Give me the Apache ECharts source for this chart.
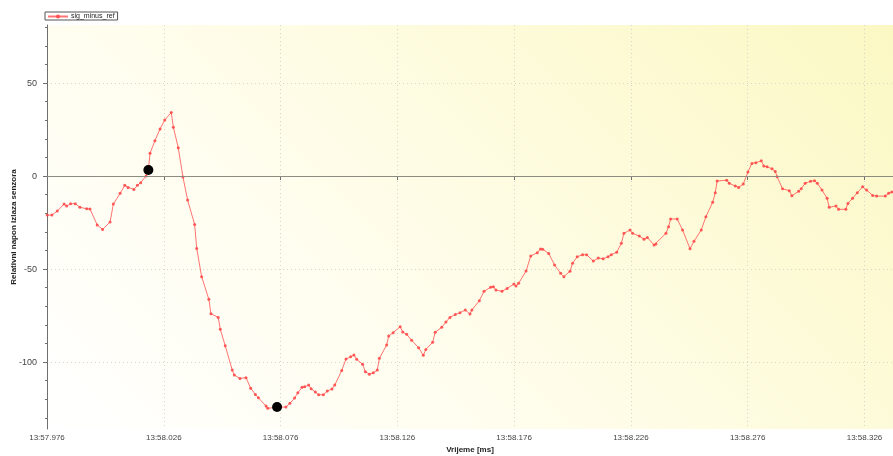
<!DOCTYPE html>
<html>
<head>
<meta charset="utf-8">
<title>sig_minus_ref</title>
<script src="https://cdn.jsdelivr.net/npm/echarts@6/dist/echarts.min.js"></script>
<style>
  html, body { margin: 0; padding: 0; background: #ffffff; }
  #chart { width: 893px; height: 456px; }
</style>
</head>
<body>
<div id="chart"></div>
<script>
// Sample times in ms after 13:57.976
const timeMs = [
  0.1, 2.1, 4.4, 7.3, 8.4, 10.1, 12.1, 14.1, 17.0, 18.4,
  21.5, 23.8, 27.0, 28.4, 31.3, 33.3, 34.7, 37.2, 38.7, 40.1,
  42.4, 43.4, 44.1, 46.2, 48.4, 50.4, 53.2, 54.1, 56.2, 58.2,
  60.2, 63.2, 64.1, 66.2, 69.3, 70.2, 73.3, 74.2, 76.3, 79.3,
  80.2, 82.6, 85.2, 87.2, 89.2, 90.5, 93.8, 94.5, 98.5, 102.3,
  104.0, 106.0, 107.4, 109.2, 110.3, 112.0, 113.1, 114.9, 116.3, 118.3,
  120.0, 122.0, 123.2, 126.2, 128.0, 130.0, 131.4, 132.6, 135.1, 136.3,
  138.0, 139.7, 141.4, 142.3, 145.4, 146.3, 148.2, 151.2, 152.3, 154.0,
  156.1, 159.1, 161.1, 162.2, 165.1, 166.2, 169.0, 170.8, 172.5, 174.8,
  176.8, 179.1, 181.1, 181.9, 185.1, 187.1, 189.9, 191.1, 192.2, 194.8,
  197.0, 199.9, 200.8, 201.9, 205.1, 207.1, 209.9, 211.3, 212.2, 214.8,
  217.3, 219.9, 221.3, 223.9, 225.0, 227.0, 229.3, 231.0, 233.9, 236.0,
  238.1, 240.2, 241.6, 243.9, 245.9, 247.0, 249.6, 250.7, 253.6, 255.6,
  257.0, 259.9, 260.7, 265.0, 266.1, 267.0, 269.8, 272.1, 275.3, 277.0,
  280.1, 282.1, 285.0, 286.1, 286.9, 291.0, 292.1, 294.7, 296.1, 298.1,
  300.1, 301.8, 303.5, 305.8, 306.9, 308.3, 310.4, 311.8, 312.6, 314.9,
  317.8, 318.9, 321.8, 322.9, 324.6, 326.9, 328.6, 329.8, 331.8, 334.0,
  334.9, 337.8, 338.9, 342.0, 342.9, 344.9, 346.9, 349.2, 350.9, 353.5,
  355.2, 358.9, 360.3, 361.7
];

// Relative sensor output voltage (sig - ref)
const sigMinusRef = [
  -21.0, -21.0, -18.8, -15.1, -16.1, -14.9, -14.9, -16.8, -17.6, -17.7,
  -26.3, -28.7, -24.7, -15.1, -9.3, -5.0, -6.1, -7.2, -5.0, -3.6,
  0.0, 3.2, 12.2, 19.0, 25.3, 30.1, 34.2, 26.2, 15.2, -0.5,
  -12.9, -26.0, -38.9, -54.1, -66.3, -74.0, -76.0, -82.4, -91.2, -104.3,
  -107.0, -108.8, -108.4, -114.1, -117.4, -119.2, -123.7, -124.9, -124.2, -124.2,
  -122.2, -119.4, -116.5, -113.6, -113.3, -112.4, -114.4, -116.1, -117.6, -117.6,
  -115.6, -114.5, -112.4, -104.5, -98.4, -97.2, -96.2, -98.5, -101.2, -105.2,
  -106.5, -105.8, -104.3, -98.0, -90.9, -86.0, -84.2, -81.0, -83.9, -85.1,
  -88.3, -92.3, -96.4, -93.2, -89.4, -84.0, -81.3, -78.5, -76.0, -74.4,
  -73.5, -72.0, -74.2, -72.0, -67.0, -62.0, -59.8, -59.5, -61.3, -62.0,
  -60.4, -58.1, -59.1, -57.7, -51.1, -43.0, -41.2, -39.2, -39.4, -41.6,
  -47.8, -52.3, -54.1, -51.2, -46.9, -43.4, -42.3, -42.3, -45.7, -44.1,
  -44.5, -43.4, -42.3, -41.0, -36.2, -30.8, -29.0, -30.8, -32.3, -34.0,
  -33.0, -37.1, -36.6, -30.8, -27.3, -23.1, -23.1, -29.0, -39.1, -35.1,
  -29.0, -21.9, -14.1, -9.0, -2.7, -2.2, -3.9, -5.4, -6.1, -4.3,
  2.2, 6.8, 7.2, 8.2, 5.4, 5.0, 3.9, 2.5, -0.4, -6.8,
  -7.9, -10.6, -8.2, -6.8, -3.9, -2.8, -2.5, -3.9, -7.5, -12.0,
  -16.8, -16.1, -17.9, -17.9, -14.7, -12.0, -9.0, -5.8, -7.5, -10.4,
  -10.8, -10.8, -9.3, -8.6
];

// Samples highlighted with black markers
const markedIdx = [21, 48];

// Axis ticks
const yMajorTicks = [-100, -50, 0, 50];
const yMinorTicks = [-130, -120, -110, -100, -90, -80, -70, -60, -50, -40, -30, -20, -10,
                     0, 10, 20, 30, 40, 50, 60, 70, 80];
const startMs = 57976;   // 13:57.976, in ms after 13:00

const seriesName = 'sig_minus_ref';
const yTitle = 'Relativni napon izlaza senzora';
const xTitle = 'Vrijeme [ms]';

function fmtTime(v) {
  const abs = Math.round(startMs + v);
  const sec = Math.floor(abs / 1000);
  const ms = abs % 1000;
  return '13:' + String(sec).padStart(2, '0') + '.' + String(ms).padStart(3, '0');
}

const lineData = timeMs.map((t, i) => [t, sigMinusRef[i]]);
const markData = markedIdx.map(i => [timeMs[i], sigMinusRef[i]]);

const font = 'Liberation Sans, Arial, sans-serif';
const axisColor = '#6e6e6e';
const gridDots = { color: '#d6d6c8', width: 1, type: [1, 3] };

// Plot background: white at bottom-left fading to pale yellow at top-right
const plotFill = new echarts.graphic.LinearGradient(47, 429, 667, -191, [
  { offset: 0, color: '#ffffff' },
  { offset: 0.4, color: '#fffdec' },
  { offset: 1, color: '#fbf8c4' }
], true);

const chart = echarts.init(document.getElementById('chart'), null, { renderer: 'canvas' });

chart.setOption({
  animation: false,
  textStyle: { fontFamily: font },
  legend: {
    data: [seriesName],
    left: 45,
    top: 12,
    padding: [1, 3, 0, 2],
    itemWidth: 20,
    itemHeight: 5,
    itemGap: 3,
    borderColor: '#555',
    borderWidth: 1,
    borderRadius: 0,
    backgroundColor: '#fff',
    textStyle: { fontSize: 7, color: '#222', fontFamily: font, padding: [0, 0, 0, -2] }
  },
  grid: {
    left: 47, right: 0, top: 25, bottom: 27,
    containLabel: false,
    outerBoundsMode: 'none',
    show: true,
    borderWidth: 0,
    backgroundColor: plotFill
  },
  xAxis: [
    {
      type: 'value',
      min: 0,
      max: 362.2,
      interval: 50,
      name: xTitle,
      nameLocation: 'middle',
      nameGap: 17,
      nameMoveOverlap: false,
      nameTextStyle: { fontSize: 8, fontWeight: 'bold', color: '#222', fontFamily: font },
      axisLine: { show: true, lineStyle: { color: axisColor, width: 1 } },
      axisTick: { show: true, length: 4, lineStyle: { color: axisColor } },
      axisLabel: {
        fontSize: 8, color: '#444', margin: 5,
        showMaxLabel: false,
        formatter: fmtTime
      },
      splitLine: { show: true, lineStyle: gridDots }
    },
    {
      type: 'value',
      position: 'top',
      min: 0,
      max: 362.2,
      interval: 50,
      axisLine: { show: true, lineStyle: { color: '#8a8a8a', width: 1 } },
      axisTick: { show: true, inside: true, length: 3, lineStyle: { color: axisColor } },
      axisLabel: { show: false },
      splitLine: { show: false }
    }
  ],
  yAxis: [
    {
      type: 'value',
      min: -136,
      max: 81.2,
      position: 'left',
      axisLine: { show: true, lineStyle: { color: axisColor, width: 1 } },
      axisTick: { show: true, length: 2, customValues: yMinorTicks, lineStyle: { color: axisColor } },
      axisLabel: { show: false },
      splitLine: { show: false }
    },
    {
      type: 'value',
      min: -136,
      max: 81.2,
      position: 'left',
      name: yTitle,
      nameLocation: 'middle',
      nameGap: 29,
      nameRotate: 90,
      nameMoveOverlap: false,
      nameTextStyle: { fontSize: 8, fontWeight: 'bold', color: '#222', fontFamily: font },
      axisLine: { show: false },
      axisTick: { show: true, length: 4, customValues: yMajorTicks, lineStyle: { color: axisColor } },
      axisLabel: { fontSize: 9, color: '#444', margin: 10, customValues: yMajorTicks },
      splitLine: { show: true, lineStyle: gridDots }
    }
  ],
  series: [
    {
      name: seriesName,
      type: 'line',
      xAxisIndex: 0,
      yAxisIndex: 0,
      data: lineData,
      color: '#ff4a4a',
      symbol: 'circle',
      symbolSize: 3,
      showAllSymbol: true,
      lineStyle: { color: '#ff5b5b', width: 1, opacity: 0.85 },
      itemStyle: { color: '#ff4a4a', opacity: 0.9 },
      markLine: {
        silent: true,
        symbol: 'none',
        label: { show: false },
        lineStyle: { color: '#8c8c80', width: 1.2, type: 'solid' },
        data: [{ yAxis: 0 }]
      },
      z: 3
    },
    {
      name: 'marked',
      type: 'scatter',
      xAxisIndex: 0,
      yAxisIndex: 0,
      data: markData,
      symbol: 'circle',
      symbolSize: 10,
      itemStyle: { color: '#000000', opacity: 1 },
      z: 5
    }
  ]
});
</script>
</body>
</html>
